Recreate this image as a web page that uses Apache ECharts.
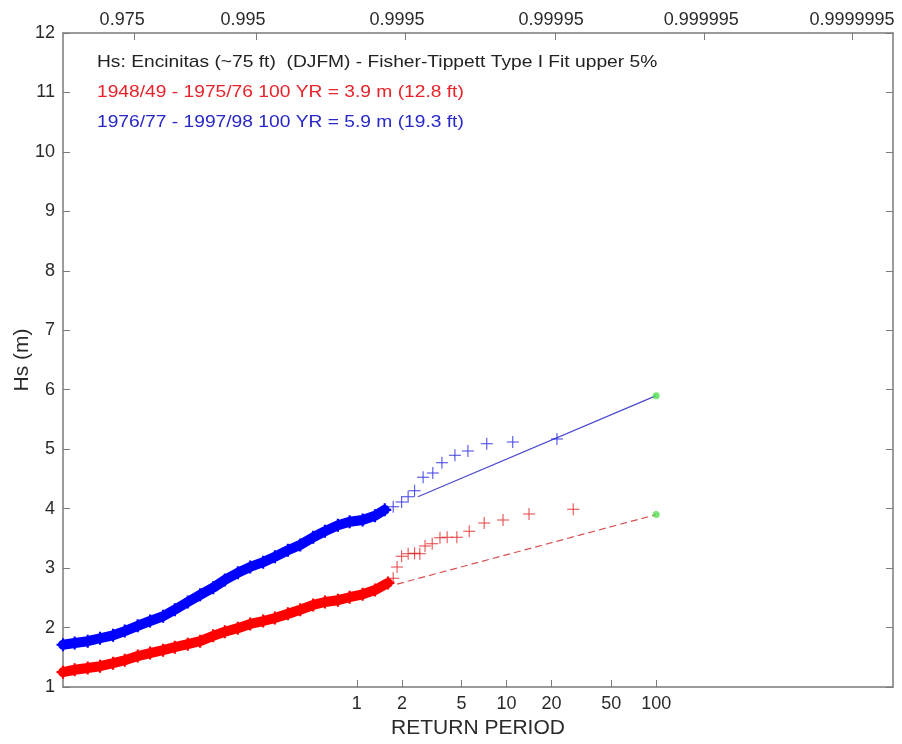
<!DOCTYPE html>
<html>
<head>
<meta charset="utf-8">
<script src="https://cdn.jsdelivr.net/npm/echarts@6/dist/echarts.min.js"></script>
<style>
  html, body { margin: 0; padding: 0; background: #fff; }
  #chart { width: 902px; height: 744px; }
</style>
</head>
<body>
<div id="chart"></div>
<script>
// x axis is the Fisher-Tippett (Gumbel) reduced variate u = -ln(-ln P)
const lambda = 955; // events per year (sets where the return periods sit)
const retU = T => -Math.log(-Math.log(1 - 1 / (lambda * T)));

const returnPeriods = [1, 2, 5, 10, 20, 50, 100];
const topLabels = ['0.975', '0.995', '0.9995', '0.99995', '0.999995', '0.9999995'];
const topTickU = [3.43, 5.31, 7.60, 9.92, 12.20, 14.49];
const topLabelU = [3.25, 5.11, 7.48, 9.85, 12.16, 14.48];
const xMin = 2.34, xMax = 15.11;

// 1976/77 - 1997/98 (blue)
const blueBandU = [2.34, 2.52, 2.72, 2.91, 3.11, 3.29, 3.49, 3.68, 3.88, 4.06, 4.26, 4.45, 4.65, 4.83, 5.03, 5.22, 5.42, 5.60, 5.80, 5.99, 6.19, 6.37, 6.57, 6.75, 6.95, 7.14, 7.29];
const blueBandHs = [1.71, 1.74, 1.77, 1.82, 1.87, 1.94, 2.03, 2.11, 2.19, 2.30, 2.43, 2.55, 2.67, 2.80, 2.92, 3.02, 3.10, 3.19, 3.30, 3.39, 3.52, 3.62, 3.72, 3.78, 3.81, 3.88, 3.98];
const blueTailU = [7.42, 7.55, 7.65, 7.75, 7.88, 8.03, 8.17, 8.37, 8.57, 8.86, 9.26, 9.94];
const blueTailHs = [4.03, 4.11, 4.20, 4.30, 4.53, 4.60, 4.77, 4.90, 4.97, 5.09, 5.12, 5.17];
const blueFitStart = [7.80, 4.20];
const blue100 = 5.9;

// 1948/49 - 1975/76 (red)
const redBandU = [2.34, 2.52, 2.72, 2.91, 3.11, 3.29, 3.49, 3.68, 3.88, 4.06, 4.26, 4.45, 4.65, 4.83, 5.03, 5.22, 5.42, 5.60, 5.80, 5.99, 6.19, 6.37, 6.57, 6.75, 6.95, 7.14, 7.34];
const redBandHs = [1.25, 1.29, 1.32, 1.35, 1.40, 1.45, 1.52, 1.57, 1.62, 1.67, 1.72, 1.77, 1.86, 1.93, 1.99, 2.06, 2.11, 2.16, 2.23, 2.30, 2.38, 2.43, 2.46, 2.51, 2.56, 2.63, 2.75];
const redTailU = [7.42, 7.48, 7.55, 7.65, 7.75, 7.83, 7.91, 8.02, 8.14, 8.25, 8.40, 8.59, 8.82, 9.11, 9.51, 10.19];
const redTailHs = [2.83, 3.02, 3.20, 3.24, 3.25, 3.24, 3.37, 3.41, 3.51, 3.52, 3.52, 3.62, 3.76, 3.81, 3.91, 3.99];
const redFitStart = [7.48, 2.73];
const red100 = 3.9;

const zip = (a, b) => a.map((v, i) => [v, b[i]]);
const u100 = retU(100);
const plus = 'path://M0,5.5H12V6.5H0Z M5.5,0H6.5V12H5.5Z';
const plusBold = 'path://M0,5H12V7H0Z M5,0H7V12H5Z';
const font = '"Liberation Sans", Arial, sans-serif';
const axisGrey = '#7a7a7a';
const labelCol = '#2a2a2a';

const chart = echarts.init(document.getElementById('chart'));

const bottomU = returnPeriods.map(retU);
const nearestIdx = (arr, v) => {
  let best = 0;
  arr.forEach((a, i) => { if (Math.abs(a - v) < Math.abs(arr[best] - v)) best = i; });
  return best;
};

chart.setOption({
  animation: false,
  grid: { left: 63, right: 9, top: 33, bottom: 57, containLabel: false, outerBoundsMode: 'none' },
  xAxis: [
    {
      type: 'value', position: 'bottom', min: xMin, max: xMax,
      name: 'RETURN PERIOD', nameLocation: 'middle', nameGap: 31, nameMoveOverlap: false,
      nameTextStyle: { fontFamily: font, fontSize: 21, color: labelCol },
      axisLine: { lineStyle: { color: axisGrey, width: 1.5 } },
      axisTick: { inside: true, length: 7, customValues: bottomU, lineStyle: { color: axisGrey } },
      axisLabel: {
        customValues: bottomU, margin: 8, fontFamily: font, fontSize: 18, color: labelCol,
        formatter: v => String(returnPeriods[nearestIdx(bottomU, v)])
      },
      splitLine: { show: false }
    },
    {
      type: 'value', position: 'top', min: xMin, max: xMax,
      axisLine: { lineStyle: { color: axisGrey, width: 1.5 } },
      axisTick: { inside: true, length: 7, customValues: topTickU, lineStyle: { color: axisGrey } },
      axisLabel: {
        customValues: topLabelU, margin: 4, fontFamily: font, fontSize: 18, color: labelCol,
        formatter: v => topLabels[nearestIdx(topLabelU, v)]
      },
      splitLine: { show: false }
    }
  ],
  yAxis: [
    {
      type: 'value', position: 'left', min: 1, max: 12, interval: 1,
      name: 'Hs (m)', nameLocation: 'middle', nameGap: 30, nameRotate: 90, nameMoveOverlap: false,
      nameTextStyle: { fontFamily: font, fontSize: 21, color: labelCol },
      axisLine: { show: true, lineStyle: { color: axisGrey, width: 1.5 } },
      axisTick: { show: true, inside: true, length: 7, lineStyle: { color: axisGrey } },
      axisLabel: { margin: 8, fontFamily: font, fontSize: 18, color: labelCol },
      splitLine: { show: false }
    },
    {
      type: 'value', position: 'right', min: 1, max: 12, interval: 1,
      axisLine: { show: true, lineStyle: { color: axisGrey, width: 1.5 } },
      axisTick: { show: true, inside: true, length: 7, lineStyle: { color: axisGrey } },
      axisLabel: { show: false },
      splitLine: { show: false }
    }
  ],
  series: [
    {
      type: 'line', data: zip(redBandU, redBandHs), lineStyle: { color: '#ff0000', width: 10, join: 'round', cap: 'round' },
      symbol: plusBold, symbolSize: 13, showAllSymbol: true, itemStyle: { color: '#ff0000' }, z: 3
    },
    {
      type: 'scatter', data: zip(redTailU, redTailHs), symbol: plus, symbolSize: 12,
      itemStyle: { color: '#e01010' }, z: 3
    },
    {
      type: 'line', data: zip(blueBandU, blueBandHs), lineStyle: { color: '#0000ff', width: 10, join: 'round', cap: 'round' },
      symbol: plusBold, symbolSize: 13, showAllSymbol: true, itemStyle: { color: '#0000ff' }, z: 3
    },
    {
      type: 'scatter', data: zip(blueTailU, blueTailHs), symbol: plus, symbolSize: 12,
      itemStyle: { color: '#1010e0' }, z: 3
    },
    {
      type: 'line', data: [blueFitStart, [u100, blue100]], symbol: 'none',
      lineStyle: { color: '#4a4ad0', width: 1.2 }, z: 2
    },
    {
      type: 'line', data: [redFitStart, [u100, red100]], symbol: 'none',
      lineStyle: { color: '#d85050', width: 1.2, type: [7, 4] }, z: 2
    },
    {
      type: 'scatter', data: [[u100, blue100], [u100, red100]], symbol: 'circle', symbolSize: 7,
      itemStyle: { color: '#55e055' }, z: 4
    }
  ],
  graphic: [
    {
      type: 'text', x: 97, y: 62, scaleX: 1.13,
      style: { text: 'Hs: Encinitas (~75 ft)  (DJFM) - Fisher-Tippett Type I Fit upper 5%', font: '17px ' + font, fill: '#222', textVerticalAlign: 'middle', verticalAlign: 'middle' }
    },
    {
      type: 'text', x: 97, y: 92, scaleX: 1.13,
      style: { text: '1948/49 - 1975/76 100 YR = 3.9 m (12.8 ft)', font: '17px ' + font, fill: '#e8232a', textVerticalAlign: 'middle', verticalAlign: 'middle' }
    },
    {
      type: 'text', x: 97, y: 122, scaleX: 1.13,
      style: { text: '1976/77 - 1997/98 100 YR = 5.9 m (19.3 ft)', font: '17px ' + font, fill: '#2828c8', textVerticalAlign: 'middle', verticalAlign: 'middle' }
    }
  ]
});
</script>
</body>
</html>
